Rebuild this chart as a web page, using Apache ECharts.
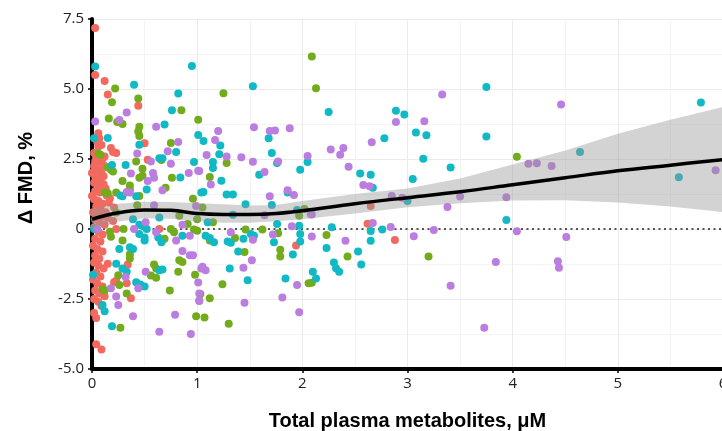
<!DOCTYPE html>
<html lang="en">
<head>
<meta charset="UTF-8">
<title>FMD vs total plasma metabolites</title>
<script src="https://cdn.jsdelivr.net/npm/echarts@6/dist/echarts.min.js"></script>
<style>
  html, body { margin: 0; padding: 0; background: #fff; }
  #chart { width: 722px; height: 431px; }
</style>
</head>
<body>
<div id="chart"></div>
<script>
// four groups of subjects, [metabolites uM, delta FMD %]
const groupRed = [
  [0.03, 7.18], [0.03, 5.5], [0.12, 5.29], [0.15, 4.8], [0.44, 4.4],
  [0.06, 3.42], [0.07, 3.24], [0.05, 3.12], [0.09, 3.0], [0.06, 2.95], [0.18, 2.89], [0.2, 2.75],
  [0.23, 2.71], [0.12, 2.59], [0.02, 2.71], [0.03, 2.41], [0.08, 2.38], [0.02, 2.24], [0.06, 2.12],
  [0.09, 2.0], [0.03, 1.88], [0.08, 1.77], [0.02, 1.65], [0.06, 1.53], [0.09, 1.41], [0.03, 1.35],
  [0.07, 1.3], [0.0, 1.18], [0.12, 2.25], [0.11, 1.88], [0.1, 2.5], [0.04, 2.55], [0.11, 1.6],
  [0.0, 2.0], [0.13, 1.45], [0.5, 3.06], [0.53, 2.47],
  [0.02, 1.06], [0.06, 1.0], [0.1, 0.9], [0.04, 0.8], [0.08, 0.71], [0.01, 0.6], [0.05, 0.5],
  [0.1, 0.45], [0.03, 0.35], [0.07, 0.25], [0.12, 0.15], [0.02, 0.05], [0.06, -0.1], [0.1, -0.2],
  [0.03, -0.35], [0.08, -0.45], [0.01, -0.6], [0.05, -0.71], [0.1, -0.8], [0.03, -0.95],
  [0.07, -1.06], [0.02, -1.2], [0.06, -1.3], [0.11, -1.41], [0.04, -1.55], [0.08, -1.7],
  [0.01, -1.8], [0.05, -1.95], [0.1, -2.05], [0.03, -2.2], [0.07, -2.3], [0.12, -2.4],
  [0.02, -2.5], [0.06, -2.6], [0.09, -2.75], [0.02, -3.0], [0.04, -3.18], [0.04, -4.12], [0.09, -4.3],
  [0.14, 1.2], [0.16, 0.95], [0.13, 0.6], [0.15, 0.4], [0.17, 1.1],
  [0.21, 0.77], [0.2, 0.29], [0.21, -1.9], [0.23, -1.85], [0.33, -1.94], [0.37, -2.47],
  [0.15, -1.24], [0.34, -1.27], [0.23, 0.0], [0.64, 0.0],
  [1.94, -0.59], [2.65, 0.82], [2.62, 0.19], [2.88, -0.39]
];
const groupGreen = [
  [0.22, 5.02], [0.19, 4.53], [0.44, 4.66], [0.85, 4.24], [0.16, 3.95], [0.24, 3.82], [0.29, 3.75],
  [0.45, 3.65], [0.45, 3.32], [0.44, 3.48], [1.01, 3.9], [0.06, 2.7], [0.08, 2.65], [0.75, 3.07],
  [0.66, 2.46], [0.42, 2.41], [0.15, 2.2], [0.18, 2.12], [0.2, 2.05], [0.76, 1.83], [0.48, 2.15],
  [0.48, 1.9], [0.29, 1.71], [0.45, 1.83], [0.7, 1.47], [0.36, 1.55], [0.36, 1.41], [0.96, 1.08],
  [0.23, 1.3], [0.12, 1.3], [0.15, 1.28], [0.45, 1.18],
  [0.43, 0.85], [0.83, 0.47], [0.91, 0.18], [0.23, 0.59], [0.17, -0.1], [0.18, -0.28], [0.29, -0.41],
  [0.69, -0.35], [0.78, -0.12], [1.0, -0.06], [0.36, -0.9], [0.36, -1.05], [0.83, -1.12],
  [0.86, -1.18], [0.59, -1.27], [0.61, -1.41], [0.56, -1.66], [0.61, -1.74], [0.82, -1.53],
  [0.98, -1.63], [0.25, -1.65], [0.26, -2.0], [0.12, -2.2], [0.1, -2.15], [0.33, -2.3],
  [0.74, -2.2], [1.02, -2.55], [0.99, -3.12], [0.27, -3.53], [0.3, 0.0], [0.75, 0.0],
  [1.25, 4.85], [2.09, 6.16], [2.13, 5.03], [1.28, 2.36], [1.12, 1.86], [1.05, 0.77], [1.15, 0.24],
  [1.0, 0.35], [1.97, 0.47], [0.97, -0.02], [1.12, -0.41], [1.36, -0.32], [1.46, -0.02],
  [1.62, -0.02], [1.77, -0.15], [1.45, -0.82], [1.79, -0.74], [1.79, -0.98], [1.24, -1.97],
  [2.06, -1.94], [1.03, -2.32], [1.12, -2.47], [1.07, -3.16], [1.3, -3.38],
  [2.02, 0.71], [2.23, -0.21], [2.43, -0.98], [2.09, -1.92], [3.2, -0.98], [4.04, 2.58]
];
const groupCyan = [
  [0.03, 5.8], [0.4, 5.15], [0.95, 5.82], [0.82, 4.84], [0.76, 4.24], [0.69, 3.73], [0.02, 3.24],
  [0.15, 3.25], [0.45, 3.01], [0.8, 2.75], [0.64, 2.53], [0.67, 2.53], [0.32, 2.29], [0.19, 2.29],
  [0.97, 2.39], [0.84, 1.84], [0.52, 1.41], [1.04, 1.3], [0.27, 1.2], [0.29, 1.17], [0.42, 1.17],
  [0.64, 0.41], [0.45, 0.15], [0.48, 0.12], [0.39, 0.35], [0.5, -0.3], [0.5, -0.41], [0.45, -0.18],
  [0.63, -0.3], [0.66, -0.47], [0.86, -0.24], [0.26, -0.71], [0.36, -0.65], [0.39, -0.71],
  [0.23, -1.24], [0.01, -1.63], [0.29, -1.41], [0.33, -1.53], [0.64, -1.47], [0.67, -1.45],
  [0.42, -1.9], [0.46, -1.98], [0.5, -2.05], [0.1, -2.71], [0.12, -2.94], [0.19, -3.47],
  [0.02, 0.0], [0.52, 0.0],
  [1.53, 5.1], [1.01, 3.36], [1.06, 3.14], [1.22, 2.98], [1.68, 3.24], [1.21, 2.67], [1.15, 2.39],
  [1.15, 2.18], [1.71, 2.71], [1.76, 2.36], [2.05, 2.39], [1.98, 2.12], [1.23, 1.72], [1.59, 1.94],
  [1.06, 1.32], [1.28, 1.23], [1.34, 1.23], [1.86, 1.3],
  [1.46, 0.88], [1.71, 0.86], [1.1, 0.24], [1.34, 0.51], [1.76, 0.18], [1.97, 0.12], [1.08, -0.24],
  [1.12, -0.32], [1.16, -0.47], [1.29, -0.45], [1.32, -0.49], [1.44, -0.35], [1.51, -0.18],
  [1.54, -0.24], [1.73, -0.47], [1.39, -0.8], [1.98, -0.18], [1.98, -0.45], [1.91, -0.91],
  [1.31, -1.41], [1.48, -1.83], [1.84, -1.77], [1.95, 0.68],
  [2.25, 4.18], [2.89, 4.22], [2.97, 4.09], [3.08, 3.45], [3.18, 3.35], [2.78, 3.24], [2.55, 1.98],
  [2.65, 1.94], [2.67, 1.47], [3.15, 2.51], [3.05, 1.79], [3.0, 1.0], [2.65, -0.07], [2.76, -0.02],
  [2.28, 0.06], [2.65, -0.42], [2.23, -0.68], [2.53, -0.8], [2.3, -1.2], [2.32, -1.4], [2.35, -1.53],
  [2.56, -1.27], [2.1, -1.53], [2.13, -1.77],
  [3.75, 5.07], [3.41, 2.2], [3.75, 3.3], [4.64, 2.75], [5.79, 4.52], [5.58, 1.85], [3.94, 0.32]
];
const groupPurple = [
  [0.33, 4.16], [0.03, 3.84], [0.26, 3.89], [0.61, 3.65], [0.43, 2.7], [0.82, 3.11], [0.72, 2.78],
  [0.56, 2.41], [0.75, 2.33], [1.02, 2.07], [0.92, 2.0], [0.58, 2.0], [0.59, 1.83], [0.37, 1.98],
  [0.53, 1.71], [0.67, 1.38], [0.33, 1.32], [0.36, 1.3], [0.59, 0.85], [0.51, 0.24], [0.86, 0.15],
  [0.61, -0.12], [0.93, -0.24], [0.8, -0.41], [0.86, -0.79], [0.93, -0.94], [0.96, -0.94],
  [0.51, -1.53], [1.04, -1.41], [0.32, -1.71], [0.44, -2.12], [0.18, -2.12], [0.23, -2.41],
  [1.02, -2.3], [0.25, -2.71], [0.39, -3.12], [0.79, -3.06], [0.64, -3.67], [0.94, -3.75],
  [0.05, 0.0], [0.4, 0.0],
  [1.2, 3.5], [1.17, 3.18], [1.54, 3.63], [1.69, 3.5], [1.74, 3.52], [1.88, 3.6], [1.09, 2.64],
  [1.28, 2.59], [1.42, 2.56], [1.53, 2.4], [1.77, 2.41], [2.05, 2.61], [1.01, 2.08], [1.13, 1.59],
  [1.64, 2.04], [1.69, 1.17], [1.86, 1.38], [1.92, 1.21],
  [0.99, 0.82], [1.64, 0.49], [1.9, 0.1], [2.08, 0.53], [1.32, -0.12], [1.53, -0.38], [1.72, -0.2],
  [1.52, -1.12], [1.05, -1.35], [1.08, -1.47], [1.44, -1.38], [1.01, -1.91], [1.95, -2.0],
  [1.02, -2.57], [1.81, -2.45], [1.45, -2.63], [1.97, -2.97],
  [2.27, 2.84], [2.36, 2.65], [2.39, 2.89], [2.89, 3.82], [3.16, 3.85], [2.66, 3.1], [2.44, 2.22],
  [2.58, 1.57], [2.64, 1.53], [2.85, 1.18], [2.95, 1.12], [2.09, 0.52], [2.67, 0.21], [2.84, 0.07],
  [2.09, -0.27], [2.41, -0.42], [3.06, -0.26],
  [3.33, 4.8], [3.5, 1.16], [3.38, 0.79], [4.46, 4.45], [4.15, 2.33], [4.23, 2.35], [4.37, 2.25],
  [5.93, 2.1], [3.94, 1.13], [4.04, -0.08], [4.51, -0.29], [3.84, -1.18], [4.43, -1.15],
  [4.44, -1.38], [3.73, -3.53], [3.25, -0.04], [3.41, -2.03]
];

// smoothed fit with confidence band
const fitX     = [0, 0.25, 0.5, 0.75, 1.0, 1.25, 1.5, 1.75, 2.0, 2.5, 3.0, 3.5, 4.0, 4.5, 5.0, 5.5, 6.0];
const fitY     = [0.35, 0.58, 0.68, 0.67, 0.55, 0.52, 0.52, 0.55, 0.65, 0.9, 1.12, 1.33, 1.58, 1.83, 2.08, 2.28, 2.48];
const fitUpper = [0.72, 0.9, 0.97, 0.96, 0.92, 0.88, 0.84, 0.86, 1.0, 1.25, 1.45, 1.8, 2.3, 2.8, 3.4, 3.9, 4.36];
const fitLower = [-0.02, 0.27, 0.38, 0.37, 0.28, 0.22, 0.22, 0.28, 0.35, 0.55, 0.78, 0.92, 1.02, 1.03, 0.95, 0.8, 0.6];

const xRange = [0, 6];
const yRange = [-5, 7.5];

const groups = [
  { data: groupRed, color: '#f26a5f' },
  { data: groupGreen, color: '#72ac1c' },
  { data: groupCyan, color: '#10b9c3' },
  { data: groupPurple, color: '#bb7ddf' }
];

const chart = echarts.init(document.getElementById('chart'));

const series = [];
series.push({
  type: 'line',
  data: [[xRange[0], 0], [xRange[1], 0]],
  symbol: 'none',
  lineStyle: { color: '#555', width: 2, type: [2, 3.5] },
  z: 1
});
groups.forEach(g => {
  series.push({
    type: 'scatter',
    data: g.data,
    symbolSize: 8,
    itemStyle: { color: g.color, opacity: 1 },
    z: 2
  });
});
// confidence band as one polygon: upper edge left->right, lower edge back
series.push({
  type: 'custom',
  data: fitX.map((x, i) => [x, fitLower[i], fitUpper[i]]),
  encode: { x: 0, y: [1, 2] },
  z: 3,
  silent: true,
  renderItem: (params, api) => {
    if (params.dataIndex !== 0) return;
    const pts = [];
    for (let i = 0; i < fitX.length; i++) pts.push(api.coord([fitX[i], fitUpper[i]]));
    for (let i = fitX.length - 1; i >= 0; i--) pts.push(api.coord([fitX[i], fitLower[i]]));
    return {
      type: 'polygon',
      shape: { points: pts },
      style: { fill: 'rgba(150,150,150,0.42)' }
    };
  }
});
series.push({
  type: 'line',
  data: fitX.map((x, i) => [x, fitY[i]]),
  smooth: 0.4,
  symbol: 'none',
  lineStyle: { color: '#000', width: 3.5 },
  z: 4
});

const option = {
  animation: false,
  backgroundColor: '#fff',
  grid: { left: 92, right: -1, top: 19, bottom: 62, containLabel: false, outerBoundsMode: 'none' },
  xAxis: {
    type: 'value',
    min: xRange[0],
    max: xRange[1],
    interval: 1,
    name: 'Total plasma metabolites, \u03bcM',
    nameLocation: 'middle',
    nameGap: 42,
    nameTextStyle: { fontFamily: 'Liberation Sans', fontWeight: 'bold', fontSize: 20, color: '#000' },
    axisLine: { onZero: false, lineStyle: { color: '#000', width: 4 } },
    axisTick: { show: true, length: 4, lineStyle: { color: '#000', width: 1.5 } },
    axisLabel: { fontFamily: 'Open Sans', fontSize: 15, color: '#222', margin: 7 },
    splitLine: { show: true, lineStyle: { color: '#ebebeb', width: 1 } },
    minorTick: { show: false, splitNumber: 2 },
    minorSplitLine: { show: true, lineStyle: { color: '#f4f4f4', width: 1 } }
  },
  yAxis: {
    type: 'value',
    min: yRange[0],
    max: yRange[1],
    interval: 2.5,
    name: '\u0394 FMD, %',
    nameLocation: 'middle',
    nameGap: 56,
    nameTextStyle: { fontFamily: 'Liberation Sans', fontWeight: 'bold', fontSize: 20, color: '#000', padding: [0, 0, 0, 32] },
    axisLine: { show: true, lineStyle: { color: '#000', width: 4 } },
    axisTick: { show: true, length: 4, lineStyle: { color: '#000', width: 1.5 } },
    axisLabel: {
      fontFamily: 'Open Sans', fontSize: 15, color: '#222', margin: 8,
      formatter: v => (v === 0 ? '0' : v.toFixed(1))
    },
    splitLine: { show: true, lineStyle: { color: '#ebebeb', width: 1 } },
    minorTick: { show: false, splitNumber: 2 },
    minorSplitLine: { show: true, lineStyle: { color: '#f4f4f4', width: 1 } }
  },
  series: series
};

chart.setOption(option);
window.onresize = chart.resize;
</script>
</body>
</html>
